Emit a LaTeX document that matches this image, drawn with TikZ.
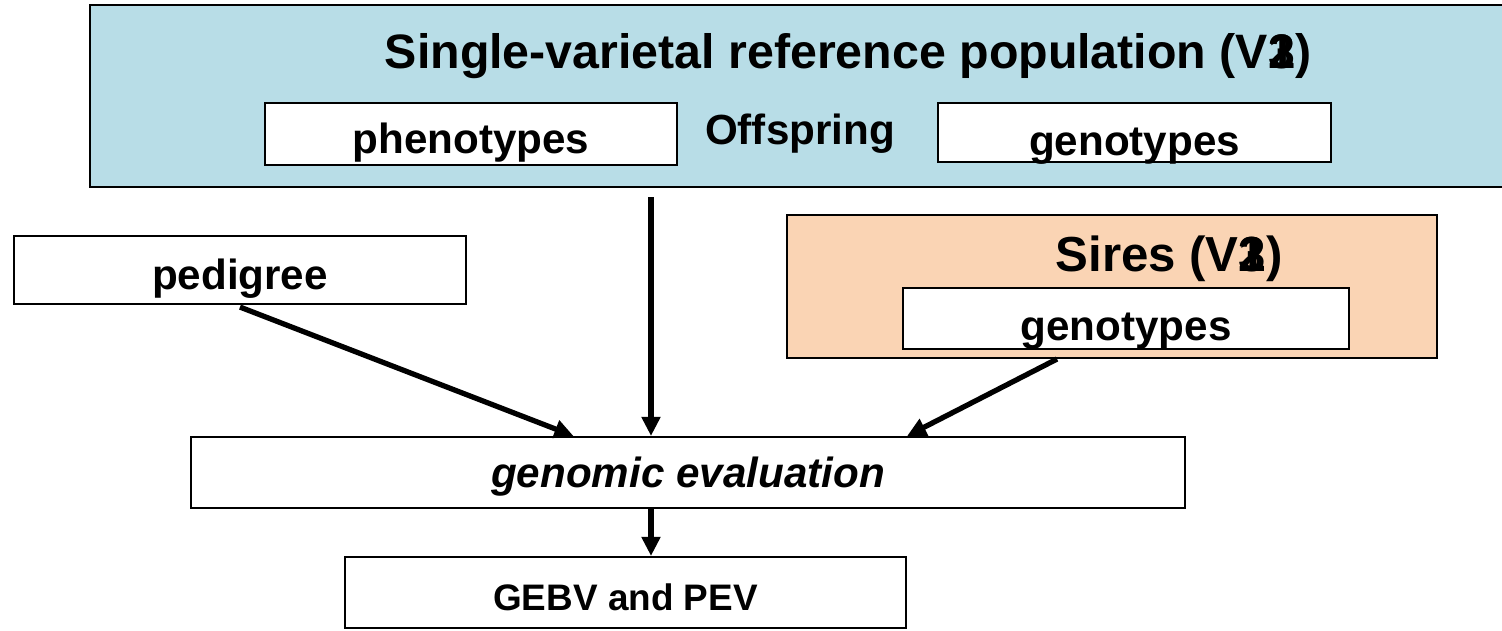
\documentclass[tikz,border=0pt]{standalone}
\usepackage{fontspec}
\setmainfont{Liberation Sans}
\usetikzlibrary{positioning,calc,arrows.meta}

\definecolor{popblue}{RGB}{184,221,231}
\definecolor{sirepeach}{RGB}{250,212,180}

\tikzset{
    box/.style={draw, rectangle, line width=1.2pt, fill=white, font=\fontsize{24}{28}\selectfont\bfseries},
    sink/.style={text depth=0pt, text height=#1},
    arr/.style={-{Triangle[length=0.38cm,width=0.36cm]}, line width=3pt}
}

\begin{document}
\begin{tikzpicture}[x=0.02cm, y=-0.02cm]
    \useasboundingbox (0,0) rectangle (1502,630);

    % Reference population
    \node[draw, rectangle, line width=1.2pt, fill=popblue, minimum width=28.5cm, minimum height=3.64cm] (pop) at (802,96) {};
    \node[font=\fontsize{27.5}{32}\selectfont\bfseries] (poptitle) at (848,56) {Single-varietal reference population (V\rlap{1}\rlap{2}3)};
    \node[box, sink=22.4pt, minimum width=8.24cm, minimum height=1.24cm] (phen) at (471,134) {phenotypes};
    \node[font=\fontsize{24}{28}\selectfont\bfseries] (offspring) at (800,134) {Offspring};
    \node[box, sink=25.8pt, minimum width=7.86cm, minimum height=1.18cm] (popgeno) at (1134.5,132.5) {genotypes};

    % Pedigree
    \node[box, sink=22.4pt, minimum width=9.04cm, minimum height=1.36cm] (ped) at (240,270) {pedigree};

    % Sires
    \node[draw, rectangle, line width=1.2pt, fill=sirepeach, minimum width=13cm, minimum height=2.86cm] (sires) at (1112,286.5) {};
    \node[font=\fontsize{28}{32}\selectfont\bfseries] (sirestitle) at (1169,259) {Sires (V\rlap{1}\rlap{2}3)};
    \node[box, sink=24.8pt, minimum width=8.92cm, minimum height=1.22cm] (siregeno) at (1126,318.5) {genotypes};

    % Evaluation and output
    \node[box, sink=16.8pt, minimum width=19.88cm, minimum height=1.42cm, font=\fontsize{24}{28}\selectfont\bfseries\itshape] (eval) at (688,472.5) {genomic evaluation};
    \node[box, sink=20.6pt, minimum width=11.22cm, minimum height=1.42cm, font=\fontsize{21}{25}\selectfont\bfseries] (gebv) at (625.5,592.5) {GEBV and PEV};

    % Arrows
    \coordinate (drop) at (651,197);
    \draw[arr] (drop) -- (drop |- eval.north);
    \draw[arr] ([yshift=-0.04cm]ped.south) -- ($(eval.north west)!0.385!(eval.north east)$);
    \draw[arr] ([xshift=-1.1cm]sires.south) -- ($(eval.north west)!0.72!(eval.north east)$);
    \draw[arr] (drop |- eval.south) -- (drop |- gebv.north);
\end{tikzpicture}
\end{document}
